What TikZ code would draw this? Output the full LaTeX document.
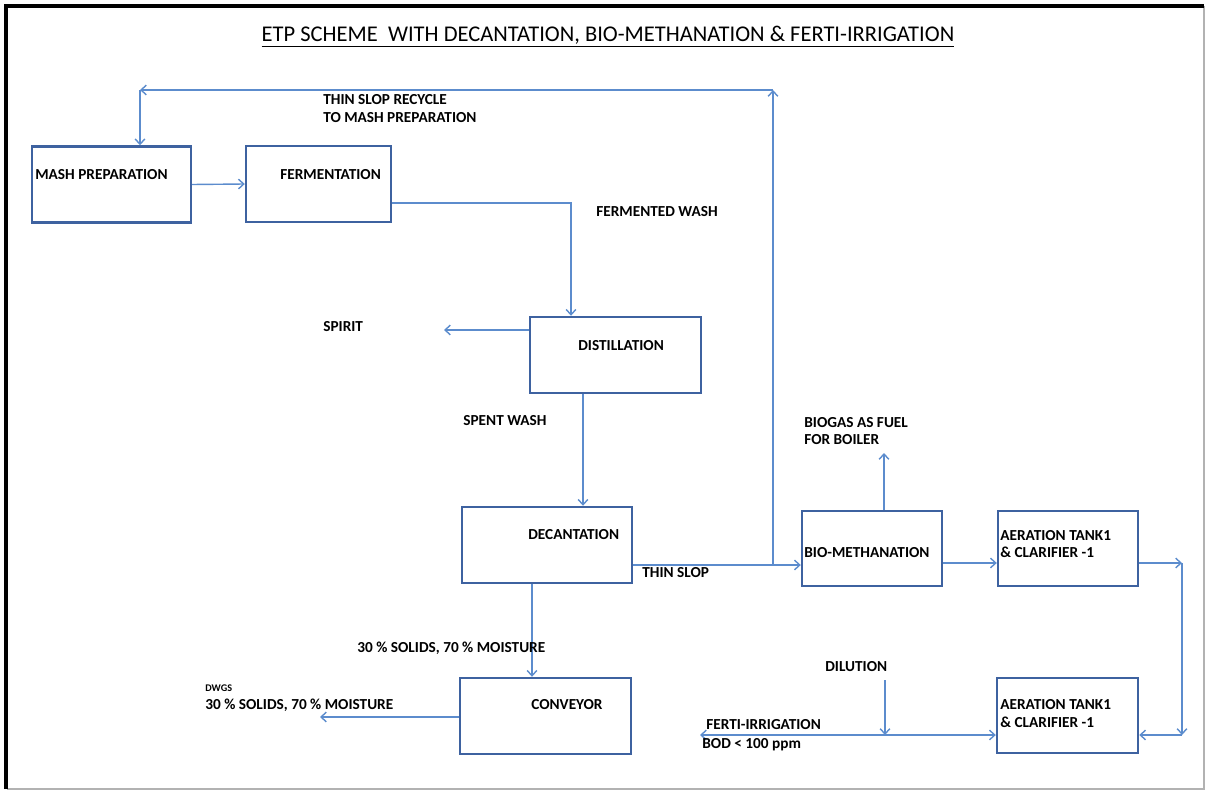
\documentclass[tikz,border=0pt]{standalone}
\usepackage{fontspec}
\setmainfont{Carlito}
\usetikzlibrary{arrows.meta}

\definecolor{boxblue}{RGB}{62,98,160}
\definecolor{flowblue}{RGB}{92,140,205}

\begin{document}
\begin{tikzpicture}[x=0.02cm, y=-0.02cm,
    unit/.style={draw=boxblue, line width=1.4pt, inner sep=0pt, minimum height=1.52cm},
    flow/.style={draw=flowblue, line width=0.8pt, -{Straight Barb[length=3pt, width=5.5pt]}},
    lbl/.style={font=\fontsize{8.7}{9.8}\selectfont\bfseries, inner sep=0pt, anchor=west, align=left},
    small/.style={font=\fontsize{5.8}{6.5}\selectfont\bfseries, inner sep=0pt, anchor=west}]

        % Page frame
        \useasboundingbox (0,0) rectangle (1206,790);
        \draw[gray!60, line width=0.6pt] (1204,6) -- (1204,789) -- (7,789);
        \draw[black, line width=2pt] (6,789) -- (6,6) -- (1204,6);

        % Title
        \node[font=\fontsize{12.8}{14}\selectfont, inner sep=0pt] (title) at (608,37)
            {\underline{ETP SCHEME\ \ WITH DECANTATION, BIO-METHANATION \& FERTI-IRRIGATION}};

        % Define the process units
        \node[unit, minimum width=3.18cm] (mash) at (111.5,184.5) {};
        \node[unit, minimum width=2.90cm] (ferm) at (318.5,184) {};
        \node[unit, minimum width=3.42cm] (dist) at (615.5,355) {};
        \node[unit, minimum width=3.40cm] (decant) at (547,545) {};
        \node[unit, minimum width=3.42cm] (conv) at (545.5,716) {};
        \node[unit, minimum width=2.80cm, minimum height=1.50cm] (biometh) at (872,548.5) {};
        \node[unit, minimum width=2.80cm, minimum height=1.50cm] (aerA) at (1068,548.5) {};
        \node[unit, minimum width=2.82cm, minimum height=1.50cm] (aerB) at (1067.5,715.5) {};

        % Unit names
        \node[lbl] (mashtxt) at (35,175) {MASH PREPARATION};
        \node[lbl] (fermtxt) at (280,175) {FERMENTATION};
        \node[lbl] (disttxt) at (578,346) {DISTILLATION};
        \node[lbl] (decanttxt) at (528,535) {DECANTATION};
        \node[lbl] (convtxt) at (531,705) {CONVEYOR};
        \node[lbl] (biomethtxt) at (804,553) {BIO-METHANATION};
        \node[lbl] (aerAtxt) at (1000,544) {AERATION TANK1\\\& CLARIFIER -1};
        \node[lbl] (aerBtxt) at (1000,713.5) {AERATION TANK1\\\& CLARIFIER -1};

        % Free ends and bends
        \coordinate (spiritend) at (444,330);
        \coordinate (dwgsend) at (320,717);
        \coordinate (biogasend) at (884,453);
        \coordinate (rjoin) at (773,565);
        \coordinate (rtop) at (773,90);
        \coordinate (rleft) at (140,90);
        \coordinate (loopA) at (1182,563);
        \coordinate (loopB) at (1182,735);
        \coordinate (dilstart) at (885,680);
        \coordinate (dilend) at (885,735);
        \coordinate (fertiend) at (700,735);

        % Main line
        \draw[flow] (mash.east) -- (ferm.west);
        \draw[flow] (ferm.east |- 0,203) -| (571,0 |- dist.north);
        \draw[flow] (dist.west |- spiritend) -- (spiritend);
        \draw[flow] (583,0 |- dist.south) -- (583,0 |- decant.north);
        \draw[flow] (decant.east |- rjoin) -- (biometh.west |- rjoin);
        \draw[flow] (532,0 |- decant.south) -- (532,0 |- conv.north);
        \draw[flow] (conv.west |- dwgsend) -- (dwgsend);

        % Thin slop recycle
        \draw[flow] (rjoin) -- (rtop);
        \draw[flow] (rtop) -- (rleft);
        \draw[flow] (rleft) -- (rleft |- mash.north);

        % Treatment line
        \draw[flow] (biogasend |- biometh.north) -- (biogasend);
        \draw[flow] (biometh.east |- 0,563) -- (aerA.west |- 0,563);
        \draw[flow] (aerA.east |- loopA) -- (loopA);
        \draw[flow] (loopA) -- (loopB);
        \draw[flow] (loopB) -- (aerB.east |- loopB);
        \draw[flow, {Straight Barb[length=3pt, width=5.5pt]}-{Straight Barb[length=3pt, width=5.5pt]}] (fertiend) -- (aerB.west |- fertiend);
        \draw[flow] (dilstart) -- (dilend);

        % Stream labels
        \node[lbl] (recycletxt) at (323,108.5) {THIN SLOP RECYCLE\\TO MASH PREPARATION};
        \node[lbl] (washtxt) at (596,212) {FERMENTED WASH};
        \node[lbl] (spirittxt) at (323,327) {SPIRIT};
        \node[lbl] (spenttxt) at (463,421) {SPENT WASH};
        \node[lbl] (sloptxt) at (642,573) {THIN SLOP};
        \node[lbl] (solidstxt) at (357,648) {30 \% SOLIDS, 70 \% MOISTURE};
        \node[small] (dwgstxt) at (205,688) {DWGS};
        \node[lbl] (dwgssolids) at (205,705) {30 \% SOLIDS, 70 \% MOISTURE};
        \node[lbl] (biogastxt) at (804,431) {BIOGAS AS FUEL\\FOR BOILER};
        \node[lbl] (diltxt) at (825,667) {DILUTION};
        \node[lbl] (fertitxt) at (706,725) {FERTI-IRRIGATION};
        \node[lbl] (bodtxt) at (702,745) {BOD < 100 ppm};

    \end{tikzpicture}
\end{document}
